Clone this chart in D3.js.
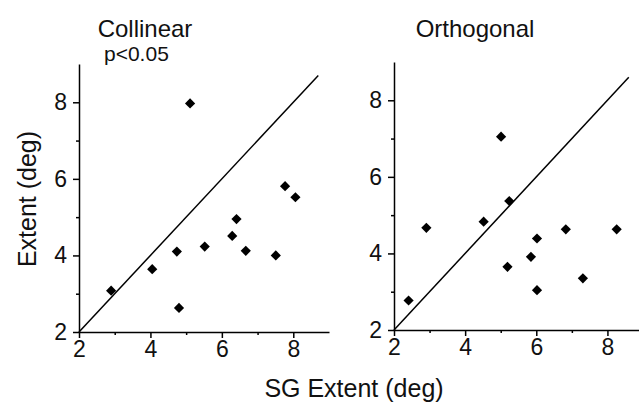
<!DOCTYPE html>
<html>
<head>
<meta charset="utf-8">
<script src="https://cdn.jsdelivr.net/npm/d3@7"></script>
<style>
  body { margin: 0; background: #fff; }
  svg { display: block; font-family: "Liberation Sans", Arial, sans-serif; }
  .axis path, .axis line { stroke: #000; stroke-width: 1.5; }
  .axis text { font-family: "Liberation Sans", Arial, sans-serif; font-size: 23px; fill: #111; }
</style>
</head>
<body>
<div id="chart"></div>
<script>
// data
const panelTitles = ["Collinear", "Orthogonal"];
const panelNotes = ["p<0.05", ""];
const majorTicks = [2, 4, 6, 8];
const minorTicks = [3, 5, 7];
const diagEnd = [8.7, 8.6];

const collinearX = [2.90, 4.05, 4.74, 4.80, 5.52, 6.29, 6.41, 6.67, 7.51, 7.77, 8.06, 5.11];
const collinearY = [3.08, 3.64, 4.10, 2.63, 4.23, 4.51, 4.95, 4.12, 4.00, 5.81, 5.52, 7.97];
const orthogonalX = [2.41, 2.91, 4.52, 5.24, 5.19, 5.85, 6.02, 6.02, 6.83, 7.31, 8.26, 5.01];
const orthogonalY = [2.77, 4.67, 4.83, 5.37, 3.65, 3.91, 4.39, 3.04, 4.63, 3.35, 4.63, 7.05];

const seriesX = [collinearX, orthogonalX];
const seriesY = [collinearY, orthogonalY];

const width = 639, height = 405;
const svg = d3.select("#chart").append("svg")
    .attr("width", width)
    .attr("height", height);

// panel frames (pixel boxes for the plotting area)
const panels = [
    { left: 79, bottom: 332, w: 250, h: 268 },
    { left: 394, bottom: 330, w: 249, h: 268 }
];

const diamond = d3.symbol(d3.symbolSquare, 52);
const fmt = d3.format("d");

panels.forEach((p, i) => {
    const x = d3.scaleLinear().domain([2, 9]).range([p.left, p.left + p.w]);
    const y = d3.scaleLinear().domain([2, 9]).range([p.bottom, p.bottom - p.h]);

    const g = svg.append("g");

    // minor ticks first
    g.append("g").attr("class", "axis")
        .attr("transform", `translate(0,${p.bottom})`)
        .call(d3.axisBottom(x).tickValues(minorTicks).tickSize(3).tickFormat(""))
        .call(a => a.select(".domain").remove());
    g.append("g").attr("class", "axis")
        .attr("transform", `translate(${p.left},0)`)
        .call(d3.axisLeft(y).tickValues(minorTicks).tickSize(3).tickFormat(""))
        .call(a => a.select(".domain").remove());

    // major axes
    g.append("g").attr("class", "axis")
        .attr("transform", `translate(0,${p.bottom})`)
        .call(d3.axisBottom(x).tickValues(majorTicks).tickFormat(fmt)
            .tickSize(6).tickSizeOuter(0).tickPadding(3));
    g.append("g").attr("class", "axis")
        .attr("transform", `translate(${p.left},0)`)
        .call(d3.axisLeft(y).tickValues(majorTicks).tickFormat(fmt)
            .tickSize(6).tickSizeOuter(0).tickPadding(6));

    // unity line
    g.append("line")
        .attr("x1", x(2)).attr("y1", y(2))
        .attr("x2", x(diagEnd[i])).attr("y2", y(diagEnd[i]))
        .attr("stroke", "#000")
        .attr("stroke-width", 1.5);

    // points
    g.selectAll("path.pt")
        .data(seriesX[i].map((v, k) => ({ x: v, y: seriesY[i][k] })))
        .join("path")
        .attr("class", "pt")
        .attr("d", diamond)
        .attr("transform", d => `translate(${x(d.x)},${y(d.y)}) rotate(45)`)
        .attr("fill", "#000");

    // titles
    g.append("text")
        .attr("x", i === 0 ? 145 : 475)
        .attr("y", 37)
        .attr("text-anchor", "middle")
        .attr("font-size", 24)
        .attr("fill", "#111")
        .text(panelTitles[i]);

    if (panelNotes[i]) {
        g.append("text")
            .attr("x", 104)
            .attr("y", 61)
            .attr("font-size", 21)
            .attr("fill", "#111")
            .text(panelNotes[i]);
    }
});

// shared axis titles
svg.append("text")
    .attr("x", 354)
    .attr("y", 397)
    .attr("text-anchor", "middle")
    .attr("font-size", 25)
    .attr("fill", "#111")
    .text("SG Extent (deg)");

svg.append("text")
    .attr("transform", "translate(36,199) rotate(-90)")
    .attr("text-anchor", "middle")
    .attr("font-size", 25)
    .attr("fill", "#111")
    .text("Extent (deg)");
</script>
</body>
</html>
